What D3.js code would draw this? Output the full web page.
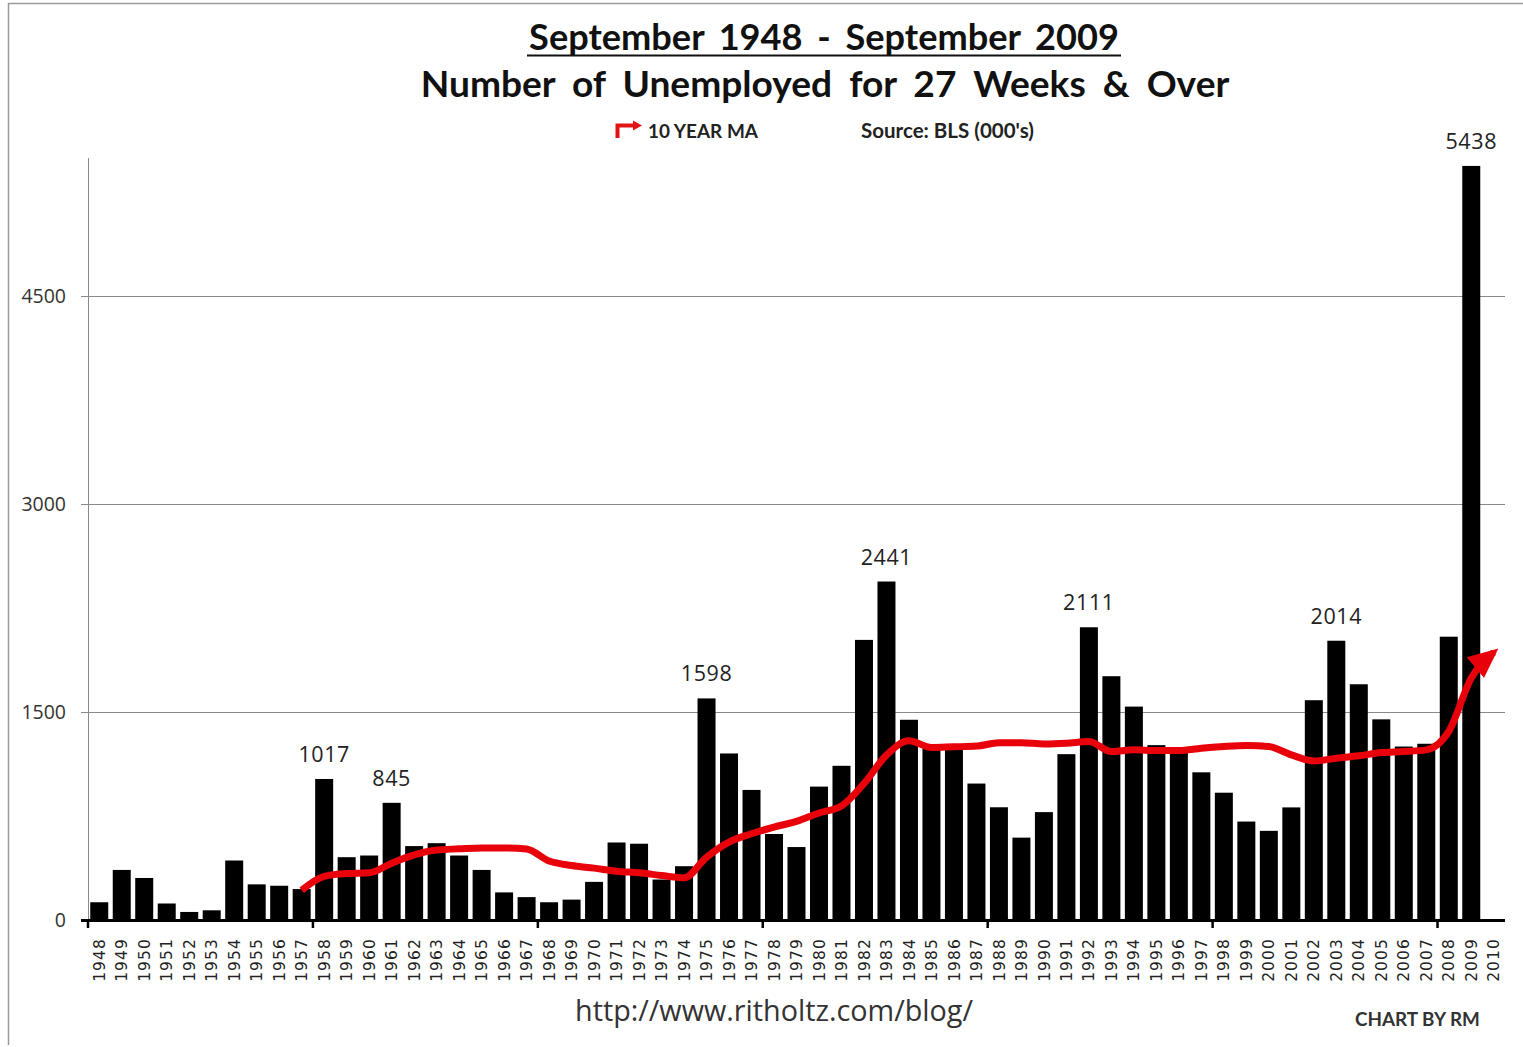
<!DOCTYPE html>
<html>
<head>
<meta charset="utf-8">
<script src="https://cdn.jsdelivr.net/npm/d3@7"></script>
<style>
  html, body { margin: 0; padding: 0; background: #fff; }
  svg { display: block; }
</style>
</head>
<body>
<svg id="chart" width="1523" height="1047"></svg>
<script>
// ---------- DATA ----------
const years = d3.range(1948, 2011).map(String); // axis categories 1948..2010
const barYears = d3.range(1948, 2010).map(String);
const barValues = [
  128, 361, 303, 119, 58, 70, 429, 257, 247, 223,     // 1948-1957
  1017, 453, 465, 845, 533, 554, 465, 361, 199, 165,  // 1958-1967
  128, 147, 275, 559, 550, 292, 388, 1598, 1201, 938, // 1968-1977
  620, 526, 962, 1112, 2020, 2441, 1444, 1252, 1245, 984, // 1978-1987
  813, 594, 778, 1196, 2111, 1758, 1539, 1261, 1230, 1065, // 1988-1997
  918, 710, 643, 812, 1585, 2014, 1700, 1447, 1251, 1271,  // 1998-2007
  2043, 5438                                              // 2008-2009
];
const maYears = d3.range(1957, 2011).map(String);
const maValues = [
  215, 315, 335, 340, 410, 470, 505, 513, 520, 520,   // 1957-1966
  512, 425, 393, 374, 352, 340, 321, 304, 453, 562,   // 1967-1976
  622, 670, 711, 772, 822, 984, 1189, 1292, 1244, 1249, // 1977-1986
  1254, 1278, 1278, 1270, 1275, 1287, 1215, 1227, 1222, 1222, // 1987-1996
  1239, 1251, 1258, 1251, 1191, 1147, 1167, 1184, 1208, 1215, // 1997-2006
  1227, 1360, 1745, 1930                                     // 2007-2010
];
const labelYears = ["1958", "1961", "1975", "1983", "1992", "2003", "2009"];
const yTicks = [0, 1500, 3000, 4500];
const majorTickYears = ["1948", "1958", "1968", "1978", "1988", "1998", "2008"];
const titleLine1 = "September 1948 - September 2009";
const titleLine2 = "Number of Unemployed for 27 Weeks & Over";
const legendLabel = "10 YEAR MA";
const sourceLabel = "Source: BLS (000's)";
const urlLabel = "http://www.ritholtz.com/blog/";
const creditLabel = "CHART BY RM";

// ---------- SETUP ----------
const svg = d3.select("#chart");
const W = 1523, H = 1047;
const plotLeft = 88, plotRight = 1505, baseY = 920;

const x = d3.scaleBand().domain(years).range([plotLeft, plotRight])
  .paddingInner(0.2).paddingOuter(0.1);
const y = d3.scaleLinear().domain([0, 4500]).range([baseY, 296]);
const step = x.step();

// frame (top and left edges, as in the reference)
svg.append("path").attr("d", `M8.5,${H - 2} L8.5,3.5 L${W},3.5`)
  .attr("fill", "none").attr("stroke", "#9a9a9a").attr("stroke-width", 1.5);

// fit helper: scales font size so text spans target width
function fit(sel, target) {
  const node = sel.node();
  const w = node.getComputedTextLength();
  const fs = parseFloat(sel.attr("font-size"));
  if (w > 0) sel.attr("font-size", (fs * target / w).toFixed(2));
  return sel;
}

// ---------- TITLES ----------
const t1 = svg.append("text").attr("x", 824).attr("y", 50).attr("text-anchor", "middle")
  .attr("font-family", "Lato, 'Open Sans', sans-serif").attr("font-weight", "bold")
  .attr("font-size", 31).attr("fill", "#111").attr("word-spacing", 6).text(titleLine1);
fit(t1, 594);
svg.append("line").attr("x1", 527).attr("x2", 1121).attr("y1", 55.5).attr("y2", 55.5)
  .attr("stroke", "#111").attr("stroke-width", 2);

const t2 = svg.append("text").attr("x", 825).attr("y", 97).attr("text-anchor", "middle")
  .attr("font-family", "Lato, 'Open Sans', sans-serif").attr("font-weight", "bold")
  .attr("font-size", 31).attr("fill", "#111").attr("word-spacing", 8).text(titleLine2);
fit(t2, 820);

// legend
svg.append("path")
  .attr("d", "M617.5,138 L617.5,125.5 L634,125.5")
  .attr("fill", "none").attr("stroke", "#e01414").attr("stroke-width", 4);
svg.append("path").attr("d", "M633,120.5 L642,125.5 L633,130.5 Z").attr("fill", "#e01414");
const lg = svg.append("text").attr("x", 648).attr("y", 138)
  .attr("font-family", "Lato, sans-serif").attr("font-weight", "bold")
  .attr("font-size", 16.5).attr("fill", "#222").text(legendLabel);
fit(lg, 110);
const src = svg.append("text").attr("x", 861).attr("y", 138)
  .attr("font-family", "Lato, sans-serif").attr("font-weight", "bold")
  .attr("font-size", 16.5).attr("fill", "#222").text(sourceLabel);
fit(src, 173);

// ---------- GRID & AXES ----------
svg.append("line").attr("x1", plotLeft + 0.5).attr("x2", plotLeft + 0.5)
  .attr("y1", 158).attr("y2", baseY).attr("stroke", "#8a8a8a").attr("stroke-width", 1);

const gridG = svg.append("g");
yTicks.filter(v => v > 0).forEach(v => {
  gridG.append("line").attr("x1", plotLeft - 7).attr("x2", plotRight)
    .attr("y1", Math.round(y(v)) + 0.5).attr("y2", Math.round(y(v)) + 0.5)
    .attr("stroke", "#8a8a8a").attr("stroke-width", 1);
});
const yAxis = d3.axisLeft(y).tickValues(yTicks).tickSize(0).tickPadding(0).tickFormat(d3.format("d"));
const yAxisG = svg.append("g").attr("transform", `translate(66,0)`).call(yAxis);
yAxisG.select(".domain").remove();
yAxisG.selectAll("text").attr("font-family", "'Open Sans', sans-serif").attr("font-size", 19.5)
  .attr("fill", "#333").attr("dy", "0.35em");

// bars
svg.append("g").selectAll("rect").data(barYears).join("rect")
  .attr("x", d => x(d)).attr("width", x.bandwidth())
  .attr("y", (d, i) => y(barValues[i])).attr("height", (d, i) => baseY - y(barValues[i]))
  .attr("fill", "#000");

// x axis baseline & major ticks
svg.append("line").attr("x1", plotLeft - 7).attr("x2", plotRight).attr("y1", baseY + 0.5).attr("y2", baseY + 0.5)
  .attr("stroke", "#000").attr("stroke-width", 3);
svg.append("g").selectAll("line").data(majorTickYears).join("line")
  .attr("x1", d => x(d) - step * 0.1).attr("x2", d => x(d) - step * 0.1)
  .attr("y1", baseY).attr("y2", baseY + 8).attr("stroke", "#000").attr("stroke-width", 2.5);

// x labels
const xAxis = d3.axisBottom(x).tickSize(0).tickPadding(0);
const xAxisG = svg.append("g").attr("transform", `translate(0,${baseY})`).call(xAxis);
xAxisG.select(".domain").remove();
xAxisG.selectAll("text")
  .attr("font-family", "'DejaVu Sans', sans-serif").attr("font-size", 15.5).attr("fill", "#222")
  .attr("letter-spacing", 1.1)
  .attr("text-anchor", "end").attr("y", 0).attr("x", 0).attr("dy", "0.36em")
  .attr("transform", "translate(0,18) rotate(-90)");

// moving average line
const maData = maYears.map((yr, i) => ({ yr, v: maValues[i] }));
const defs = svg.append("defs");
defs.append("marker").attr("id", "arrow").attr("viewBox", "0 0 10 10")
  .attr("refX", 8).attr("refY", 5).attr("markerUnits", "userSpaceOnUse")
  .attr("markerWidth", 30).attr("markerHeight", 30).attr("orient", "auto")
  .append("path").attr("d", "M0,0.5 L10,5 L0,9.5 Z").attr("fill", "#e8000b");
const line = d3.line().x(d => x(d.yr) + x.bandwidth() / 2).y(d => y(d.v)).curve(d3.curveMonotoneX);
svg.append("path").datum(maData).attr("d", line)
  .attr("fill", "none").attr("stroke", "#e8000b").attr("stroke-width", 7)
  .attr("stroke-linejoin", "round").attr("stroke-linecap", "butt")
  .attr("marker-end", "url(#arrow)");

// value labels
svg.append("g").selectAll("text").data(labelYears).join("text")
  .attr("x", d => x(d) + x.bandwidth() / 2)
  .attr("y", d => y(barValues[barYears.indexOf(d)]) - 17)
  .attr("text-anchor", "middle")
  .attr("font-family", "'Open Sans', sans-serif").attr("font-size", 21.5).attr("fill", "#222")
  .attr("letter-spacing", 0.6)
  .text(d => barValues[barYears.indexOf(d)]);

// footer
const url = svg.append("text").attr("x", 774).attr("y", 1021).attr("text-anchor", "middle")
  .attr("font-family", "'Open Sans', sans-serif").attr("font-size", 26).attr("fill", "#333").text(urlLabel);
fit(url, 398);
const cr = svg.append("text").attr("x", 1355).attr("y", 1026)
  .attr("font-family", "Lato, sans-serif").attr("font-weight", "bold")
  .attr("font-size", 15.5).attr("fill", "#333").text(creditLabel);
fit(cr, 125);
</script>
</body>
</html>
